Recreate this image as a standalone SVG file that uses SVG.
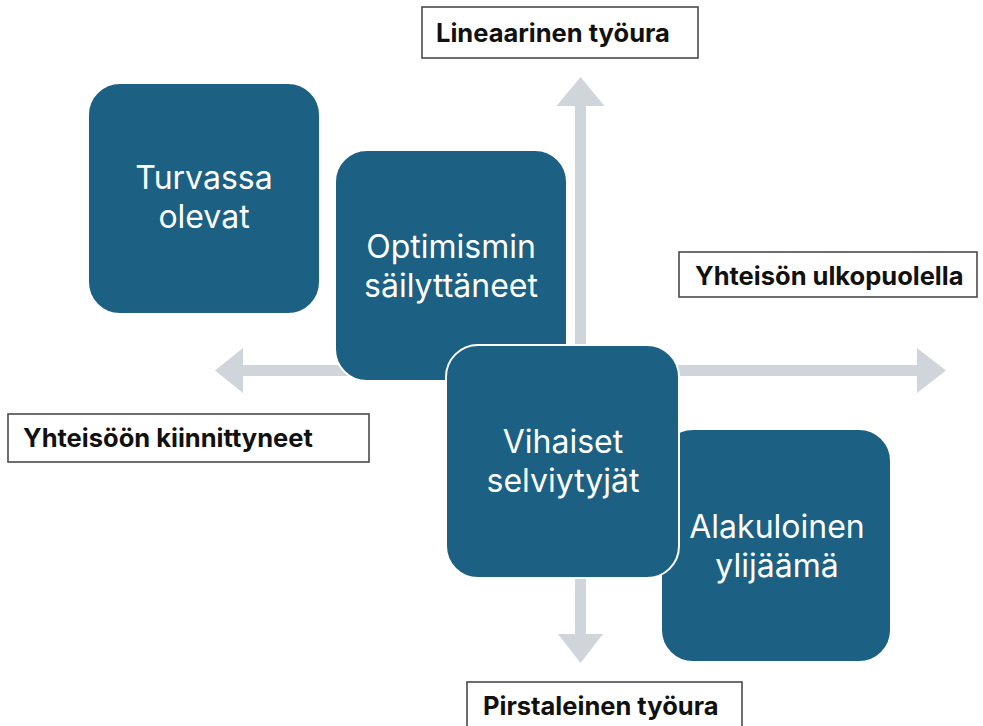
<svg xmlns="http://www.w3.org/2000/svg" width="983" height="726" viewBox="0 0 983 726">
<style>
.arrow{fill:#d0d5dc;stroke:none}
.node rect.box{fill:#1c6083;stroke:#ffffff;stroke-width:2}
.node text.t{font-family:Inter,"Noto Sans",sans-serif;font-size:32px;fill:#ffffff;text-anchor:middle}
.lab rect{fill:#ffffff;stroke:#4a4a4a;stroke-width:1.6}
.lab text{font-family:Inter,"Liberation Sans",sans-serif;font-weight:700;font-size:25.5px;fill:#111111}
</style>
<rect width="983" height="726" fill="#ffffff"/>
<g id="connectors">
<polygon class="arrow" points="580.5,77 604.5,106 586,106 586,634 603,634 580.5,663 558,634 575,634 575,106 556.5,106"/>
<polygon class="arrow" points="215,370.5 243,348 243,365 917,365 917,348 946,370.5 917,393 917,376 243,376 243,393"/>
</g>
<g id="node-turvassa" class="node">
<rect class="box" x="88" y="83" width="232" height="231" rx="32"/>
<text class="t" x="204" y="189">Turvassa</text>
<text class="t" x="204" y="228">olevat</text>
</g>
<g id="node-optimismin" class="node">
<rect class="box" x="335" y="150" width="232" height="231" rx="32"/>
<text class="t" x="451" y="258">Optimismin</text>
<text class="t" x="451" y="297">säilyttäneet</text>
</g>
<g id="node-alakuloinen" class="node">
<rect class="box" x="661" y="429" width="230" height="233" rx="32"/>
<text class="t" x="777" y="538">Alakuloinen</text>
<text class="t" x="777" y="577">ylijäämä</text>
</g>
<g id="node-vihaiset" class="node">
<rect class="box" x="446" y="345" width="233" height="233" rx="32"/>
<text class="t" x="563" y="453">Vihaiset</text>
<text class="t" x="563" y="492">selviytyjät</text>
</g>
<g id="label-lineaarinen" class="lab">
<rect x="422" y="7" width="276" height="51"/>
<text x="436" y="42">Lineaarinen työura</text>
</g>
<g id="label-ulkopuolella" class="lab">
<rect x="679" y="252" width="298" height="45"/>
<text x="695" y="285">Yhteisön ulkopuolella</text>
</g>
<g id="label-kiinnittyneet" class="lab">
<rect x="8" y="414" width="361" height="48"/>
<text x="23" y="447">Yhteisöön kiinnittyneet</text>
</g>
<g id="label-pirstaleinen" class="lab">
<rect x="467" y="682" width="275" height="46"/>
<text x="483" y="715">Pirstaleinen työura</text>
</g>
</svg>
